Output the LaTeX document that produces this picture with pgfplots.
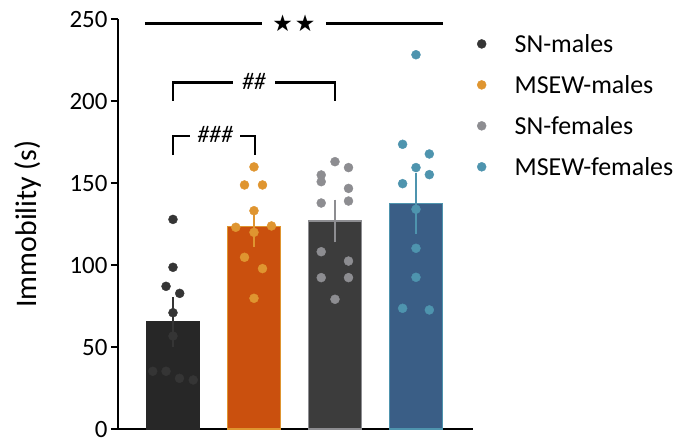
\documentclass[border=0pt]{standalone}
\usepackage{pgfplots}
\pgfplotsset{compat=1.18}
\usepackage{fontspec}
\setmainfont{Carlito}
\newfontfamily\symfont{DejaVu Sans}
\definecolor{c1bar}{HTML}{272727}
\definecolor{c1dot}{HTML}{353535}
\definecolor{c2bar}{HTML}{CA500E}
\definecolor{c2dot}{HTML}{DF9530}
\definecolor{c3bar}{HTML}{3C3C3C}
\definecolor{c3dot}{HTML}{8D8D91}
\definecolor{c4bar}{HTML}{3A5E86}
\definecolor{c4dot}{HTML}{4E94AE}
\begin{document}
\begin{tikzpicture}
\path[use as bounding box] (-118bp,-12bp) rectangle (561bp,429bp);
\begin{axis}[
  at={(0,0)}, anchor=south west,
  scale only axis, width=355bp, height=410bp,
  xmin=-0.679, xmax=3.704, ymin=0, ymax=250,
  axis lines=left, axis line style={line width=2.5bp, -},
  xtick=\empty, ytick={0,50,...,250},
  tick style={line width=2bp, black}, major tick length=7bp,
  tick align=outside,
  yticklabel style={font=\fontsize{25}{28}\selectfont, inner ysep=0.5bp, text depth=0pt},
  /pgf/number format/assume math mode=true,
  ylabel={Immobility (s)},
  ylabel style={font=\fontsize{30}{32}\selectfont, at={(axis description cs:-0.254,0.5)}, anchor=center},
  clip=false,
  legend style={at={(axis description cs:1.0,1.0)}, anchor=north west, draw=none, fill=none,
    font=\fontsize{26}{29}\selectfont, row sep=17.5bp, xshift=-3bp, yshift=-11bp},
  legend cell align=left,
  legend image code/.code={\path[draw=none,fill=none] (-8.5bp,0bp) -- (31bp,0bp); \draw[#1] plot coordinates {(0bp,0bp)};},
]
% bars
\addplot[ybar, bar width=0.654, bar shift=0pt, fill=c1bar, draw=c1bar, line width=1.2bp, forget plot,
  error bars/.cd, y dir=both, y explicit,
  error bar style={line width=1.5bp, c1dot}, error mark options={line width=1.5bp, mark size=7bp, c1dot}]
  coordinates {(0,65.2) +- (0,10.8)};
\addplot[ybar, bar width=0.654, bar shift=0pt, fill=c2bar, draw=c2dot, line width=1.2bp, forget plot,
  error bars/.cd, y dir=both, y explicit,
  error bar style={line width=1.5bp, c2dot}, error mark options={line width=1.5bp, mark size=7bp, c2dot}]
  coordinates {(1,123.4) +- (0,8.0)};
\addplot[ybar, bar width=0.654, bar shift=0pt, fill=c3bar, draw=c3dot, line width=1.2bp, forget plot,
  error bars/.cd, y dir=both, y explicit,
  error bar style={line width=1.5bp, c3dot}, error mark options={line width=1.5bp, mark size=7bp, c3dot}]
  coordinates {(2,126.8) +- (0,8.8)};
\addplot[ybar, bar width=0.654, bar shift=0pt, fill=c4bar, draw=c4dot, line width=1.2bp, forget plot,
  error bars/.cd, y dir=both, y explicit,
  error bar style={line width=1.5bp, c4dot}, error mark options={line width=1.5bp, mark size=7bp, c4dot}]
  coordinates {(3,137.6) +- (0,14.3)};
% dots
\addplot[only marks, mark=*, mark size=4.5bp, color=c1dot] coordinates {
 (0,127.8) (0,98.6) (-0.086,87.0) (0.083,82.7) (0,70.9) (0,56.7)
 (-0.25,35.2) (-0.086,35.2) (0.08,30.9) (0.25,29.9)};
\addlegendentry{SN-males}
\addplot[only marks, mark=*, mark size=4.5bp, color=c2dot] coordinates {
 (1,159.8) (0.883,148.8) (1.105,148.8) (1,133.1) (0.775,123.0) (1.216,123.8)
 (1,119.9) (0.883,104.7) (1.105,97.8) (1,79.7)};
\addlegendentry{MSEW-males}
\addplot[only marks, mark=*, mark size=4.5bp, color=c3dot] coordinates {
 (2,163.0) (1.83,154.9) (2.167,159.4) (1.83,150.8) (2.167,146.7) (1.83,137.8) (2.167,139.0)
 (1.83,108.1) (2.167,102.4) (1.83,92.3) (2.167,92.3) (2,79.1)};
\addlegendentry{SN-females}
\addplot[only marks, mark=*, mark size=4.5bp, color=c4dot] coordinates {
 (3,228.2) (2.835,173.6) (3.165,167.7) (3,159.4) (3.165,155.1) (2.835,149.6)
 (3,134.0) (3,110.2) (3,92.5) (2.835,73.6) (3.165,72.6)};
\addlegendentry{MSEW-females}
% significance
\draw[line width=2.5bp] (axis cs:-0.346,247.4) -- (axis cs:1.095,247.4);
\draw[line width=2.5bp] (axis cs:1.889,247.4) -- (axis cs:3.337,247.4);
\node at (axis cs:1.494,247.4) {\symfont\fontsize{23}{23}\selectfont ★\kern2bp★};
\draw[line width=2.5bp] (axis cs:0,200.2) -- (axis cs:0,211.2) -- (axis cs:0.74,211.2);
\draw[line width=2.5bp] (axis cs:1.26,211.2) -- (axis cs:2,211.2) -- (axis cs:2,200.2);
\node at (axis cs:1,212) {\fontsize{24}{24}\selectfont\itshape \#\#};
\draw[line width=2.5bp] (axis cs:0,167) -- (axis cs:0,178.7) -- (axis cs:0.21,178.7);
\draw[line width=2.5bp] (axis cs:0.83,178.7) -- (axis cs:1.01,178.7) -- (axis cs:1.01,167);
\node at (axis cs:0.52,179.5) {\fontsize{24}{24}\selectfont\itshape \#\#\#};
\end{axis}
\end{tikzpicture}
\end{document}
